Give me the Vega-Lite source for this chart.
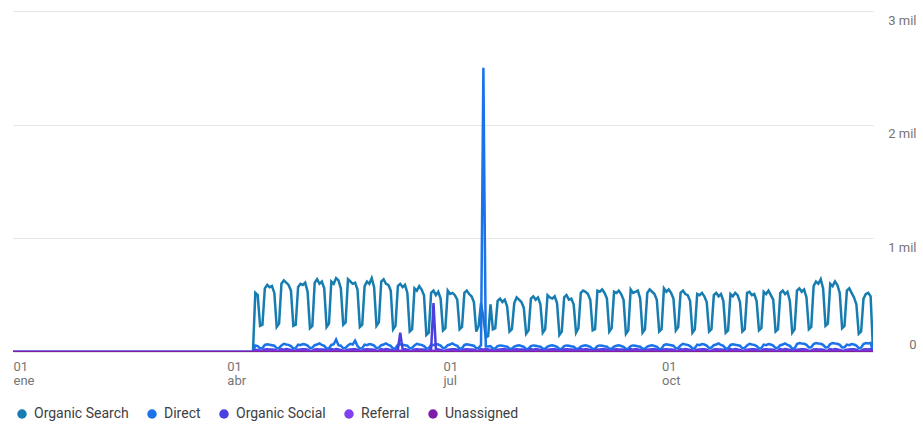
{
"$schema": "https://vega.github.io/schema/vega-lite/v6.json",
"width": 860, "height": 341,
"autosize": {"type": "none"},
"padding": {"left": 13, "top": 11, "right": 50, "bottom": 74},
"background": "white",
"config": {"view": {"stroke": null}, "font": "Roboto"},
"data": {"values": [
{"d":"2023-01-01","Organic Search":0,"Direct":0,"Organic Social":0,"Referral":0,"Unassigned":0},
{"d":"2023-04-12","Organic Search":0,"Direct":0,"Organic Social":0,"Referral":0,"Unassigned":0},
{"d":"2023-04-13","Organic Search":520,"Direct":58,"Organic Social":20,"Referral":9,"Unassigned":2},
{"d":"2023-04-14","Organic Search":500,"Direct":52,"Organic Social":18,"Referral":8,"Unassigned":1},
{"d":"2023-04-15","Organic Search":230,"Direct":32,"Organic Social":11,"Referral":4,"Unassigned":1},
{"d":"2023-04-16","Organic Search":240,"Direct":35,"Organic Social":12,"Referral":5,"Unassigned":0},
{"d":"2023-04-17","Organic Search":560,"Direct":62,"Organic Social":22,"Referral":9,"Unassigned":2},
{"d":"2023-04-18","Organic Search":590,"Direct":68,"Organic Social":24,"Referral":10,"Unassigned":2},
{"d":"2023-04-19","Organic Search":570,"Direct":64,"Organic Social":23,"Referral":9,"Unassigned":1},
{"d":"2023-04-20","Organic Search":580,"Direct":60,"Organic Social":21,"Referral":9,"Unassigned":2},
{"d":"2023-04-21","Organic Search":520,"Direct":55,"Organic Social":19,"Referral":8,"Unassigned":1},
{"d":"2023-04-22","Organic Search":220,"Direct":33,"Organic Social":11,"Referral":5,"Unassigned":1},
{"d":"2023-04-23","Organic Search":250,"Direct":36,"Organic Social":12,"Referral":5,"Unassigned":0},
{"d":"2023-04-24","Organic Search":600,"Direct":58,"Organic Social":25,"Referral":10,"Unassigned":1},
{"d":"2023-04-25","Organic Search":630,"Direct":72,"Organic Social":21,"Referral":9,"Unassigned":2},
{"d":"2023-04-26","Organic Search":610,"Direct":66,"Organic Social":26,"Referral":11,"Unassigned":2},
{"d":"2023-04-27","Organic Search":590,"Direct":63,"Organic Social":22,"Referral":8,"Unassigned":1},
{"d":"2023-04-28","Organic Search":540,"Direct":52,"Organic Social":18,"Referral":7,"Unassigned":1},
{"d":"2023-04-29","Organic Search":230,"Direct":31,"Organic Social":12,"Referral":4,"Unassigned":0},
{"d":"2023-04-30","Organic Search":240,"Direct":34,"Organic Social":13,"Referral":6,"Unassigned":1},
{"d":"2023-05-01","Organic Search":570,"Direct":65,"Organic Social":20,"Referral":9,"Unassigned":2},
{"d":"2023-05-02","Organic Search":600,"Direct":60,"Organic Social":23,"Referral":10,"Unassigned":2},
{"d":"2023-05-03","Organic Search":590,"Direct":70,"Organic Social":25,"Referral":9,"Unassigned":1},
{"d":"2023-05-04","Organic Search":610,"Direct":66,"Organic Social":24,"Referral":9,"Unassigned":2},
{"d":"2023-05-05","Organic Search":530,"Direct":57,"Organic Social":20,"Referral":8,"Unassigned":1},
{"d":"2023-05-06","Organic Search":210,"Direct":35,"Organic Social":10,"Referral":5,"Unassigned":1},
{"d":"2023-05-07","Organic Search":230,"Direct":38,"Organic Social":12,"Referral":5,"Unassigned":0},
{"d":"2023-05-08","Organic Search":610,"Direct":60,"Organic Social":22,"Referral":10,"Unassigned":1},
{"d":"2023-05-09","Organic Search":640,"Direct":66,"Organic Social":24,"Referral":9,"Unassigned":2},
{"d":"2023-05-10","Organic Search":600,"Direct":75,"Organic Social":23,"Referral":11,"Unassigned":2},
{"d":"2023-05-11","Organic Search":620,"Direct":62,"Organic Social":21,"Referral":8,"Unassigned":1},
{"d":"2023-05-12","Organic Search":560,"Direct":54,"Organic Social":19,"Referral":7,"Unassigned":1},
{"d":"2023-05-13","Organic Search":220,"Direct":30,"Organic Social":11,"Referral":4,"Unassigned":0},
{"d":"2023-05-14","Organic Search":250,"Direct":33,"Organic Social":12,"Referral":6,"Unassigned":1},
{"d":"2023-05-15","Organic Search":620,"Direct":62,"Organic Social":25,"Referral":9,"Unassigned":2},
{"d":"2023-05-16","Organic Search":600,"Direct":68,"Organic Social":21,"Referral":10,"Unassigned":2},
{"d":"2023-05-17","Organic Search":650,"Direct":110,"Organic Social":26,"Referral":9,"Unassigned":1},
{"d":"2023-05-18","Organic Search":630,"Direct":60,"Organic Social":22,"Referral":9,"Unassigned":2},
{"d":"2023-05-19","Organic Search":560,"Direct":55,"Organic Social":18,"Referral":8,"Unassigned":1},
{"d":"2023-05-20","Organic Search":240,"Direct":33,"Organic Social":12,"Referral":5,"Unassigned":1},
{"d":"2023-05-21","Organic Search":260,"Direct":36,"Organic Social":13,"Referral":5,"Unassigned":0},
{"d":"2023-05-22","Organic Search":640,"Direct":58,"Organic Social":20,"Referral":10,"Unassigned":1},
{"d":"2023-05-23","Organic Search":620,"Direct":72,"Organic Social":23,"Referral":9,"Unassigned":2},
{"d":"2023-05-24","Organic Search":600,"Direct":66,"Organic Social":25,"Referral":11,"Unassigned":2},
{"d":"2023-05-25","Organic Search":610,"Direct":100,"Organic Social":24,"Referral":8,"Unassigned":1},
{"d":"2023-05-26","Organic Search":550,"Direct":52,"Organic Social":20,"Referral":7,"Unassigned":1},
{"d":"2023-05-27","Organic Search":220,"Direct":31,"Organic Social":10,"Referral":4,"Unassigned":0},
{"d":"2023-05-28","Organic Search":240,"Direct":34,"Organic Social":12,"Referral":6,"Unassigned":1},
{"d":"2023-05-29","Organic Search":580,"Direct":65,"Organic Social":22,"Referral":9,"Unassigned":2},
{"d":"2023-05-30","Organic Search":620,"Direct":60,"Organic Social":24,"Referral":10,"Unassigned":2},
{"d":"2023-05-31","Organic Search":600,"Direct":70,"Organic Social":23,"Referral":9,"Unassigned":1},
{"d":"2023-06-01","Organic Search":650,"Direct":66,"Organic Social":21,"Referral":9,"Unassigned":2},
{"d":"2023-06-02","Organic Search":570,"Direct":57,"Organic Social":19,"Referral":8,"Unassigned":1},
{"d":"2023-06-03","Organic Search":230,"Direct":35,"Organic Social":11,"Referral":5,"Unassigned":1},
{"d":"2023-06-04","Organic Search":260,"Direct":38,"Organic Social":12,"Referral":5,"Unassigned":0},
{"d":"2023-06-05","Organic Search":620,"Direct":60,"Organic Social":25,"Referral":10,"Unassigned":1},
{"d":"2023-06-06","Organic Search":640,"Direct":66,"Organic Social":21,"Referral":9,"Unassigned":2},
{"d":"2023-06-07","Organic Search":600,"Direct":75,"Organic Social":26,"Referral":11,"Unassigned":2},
{"d":"2023-06-08","Organic Search":590,"Direct":62,"Organic Social":22,"Referral":8,"Unassigned":1},
{"d":"2023-06-09","Organic Search":540,"Direct":54,"Organic Social":18,"Referral":7,"Unassigned":1},
{"d":"2023-06-10","Organic Search":200,"Direct":30,"Organic Social":12,"Referral":4,"Unassigned":0},
{"d":"2023-06-11","Organic Search":230,"Direct":33,"Organic Social":13,"Referral":6,"Unassigned":1},
{"d":"2023-06-12","Organic Search":580,"Direct":62,"Organic Social":20,"Referral":9,"Unassigned":2},
{"d":"2023-06-13","Organic Search":600,"Direct":68,"Organic Social":170,"Referral":10,"Unassigned":2},
{"d":"2023-06-14","Organic Search":570,"Direct":64,"Organic Social":25,"Referral":9,"Unassigned":1},
{"d":"2023-06-15","Organic Search":590,"Direct":60,"Organic Social":24,"Referral":9,"Unassigned":2},
{"d":"2023-06-16","Organic Search":520,"Direct":55,"Organic Social":20,"Referral":8,"Unassigned":1},
{"d":"2023-06-17","Organic Search":180,"Direct":33,"Organic Social":10,"Referral":5,"Unassigned":1},
{"d":"2023-06-18","Organic Search":200,"Direct":36,"Organic Social":12,"Referral":5,"Unassigned":0},
{"d":"2023-06-19","Organic Search":560,"Direct":58,"Organic Social":22,"Referral":10,"Unassigned":1},
{"d":"2023-06-20","Organic Search":540,"Direct":72,"Organic Social":24,"Referral":9,"Unassigned":2},
{"d":"2023-06-21","Organic Search":580,"Direct":66,"Organic Social":23,"Referral":11,"Unassigned":2},
{"d":"2023-06-22","Organic Search":550,"Direct":63,"Organic Social":21,"Referral":8,"Unassigned":1},
{"d":"2023-06-23","Organic Search":500,"Direct":52,"Organic Social":19,"Referral":7,"Unassigned":1},
{"d":"2023-06-24","Organic Search":150,"Direct":31,"Organic Social":11,"Referral":4,"Unassigned":0},
{"d":"2023-06-25","Organic Search":170,"Direct":34,"Organic Social":12,"Referral":6,"Unassigned":1},
{"d":"2023-06-26","Organic Search":520,"Direct":65,"Organic Social":25,"Referral":9,"Unassigned":2},
{"d":"2023-06-27","Organic Search":540,"Direct":60,"Organic Social":430,"Referral":10,"Unassigned":2},
{"d":"2023-06-28","Organic Search":500,"Direct":70,"Organic Social":26,"Referral":9,"Unassigned":1},
{"d":"2023-06-29","Organic Search":530,"Direct":66,"Organic Social":22,"Referral":9,"Unassigned":2},
{"d":"2023-06-30","Organic Search":470,"Direct":57,"Organic Social":18,"Referral":8,"Unassigned":1},
{"d":"2023-07-01","Organic Search":190,"Direct":35,"Organic Social":12,"Referral":5,"Unassigned":1},
{"d":"2023-07-02","Organic Search":210,"Direct":38,"Organic Social":13,"Referral":5,"Unassigned":0},
{"d":"2023-07-03","Organic Search":540,"Direct":60,"Organic Social":20,"Referral":10,"Unassigned":1},
{"d":"2023-07-04","Organic Search":510,"Direct":66,"Organic Social":23,"Referral":9,"Unassigned":2},
{"d":"2023-07-05","Organic Search":520,"Direct":75,"Organic Social":25,"Referral":11,"Unassigned":2},
{"d":"2023-07-06","Organic Search":500,"Direct":62,"Organic Social":24,"Referral":8,"Unassigned":1},
{"d":"2023-07-07","Organic Search":460,"Direct":54,"Organic Social":20,"Referral":7,"Unassigned":1},
{"d":"2023-07-08","Organic Search":200,"Direct":30,"Organic Social":10,"Referral":4,"Unassigned":0},
{"d":"2023-07-09","Organic Search":220,"Direct":33,"Organic Social":12,"Referral":6,"Unassigned":1},
{"d":"2023-07-10","Organic Search":520,"Direct":62,"Organic Social":22,"Referral":9,"Unassigned":2},
{"d":"2023-07-11","Organic Search":540,"Direct":68,"Organic Social":24,"Referral":10,"Unassigned":2},
{"d":"2023-07-12","Organic Search":510,"Direct":64,"Organic Social":23,"Referral":9,"Unassigned":1},
{"d":"2023-07-13","Organic Search":490,"Direct":60,"Organic Social":21,"Referral":9,"Unassigned":2},
{"d":"2023-07-14","Organic Search":440,"Direct":55,"Organic Social":19,"Referral":8,"Unassigned":1},
{"d":"2023-07-15","Organic Search":180,"Direct":33,"Organic Social":11,"Referral":5,"Unassigned":1},
{"d":"2023-07-16","Organic Search":230,"Direct":36,"Organic Social":12,"Referral":5,"Unassigned":0},
{"d":"2023-07-17","Organic Search":430,"Direct":60,"Organic Social":25,"Referral":10,"Unassigned":1},
{"d":"2023-07-18","Organic Search":300,"Direct":2500,"Organic Social":21,"Referral":9,"Unassigned":2},
{"d":"2023-07-19","Organic Search":130,"Direct":50,"Organic Social":26,"Referral":11,"Unassigned":2},
{"d":"2023-07-20","Organic Search":140,"Direct":48,"Organic Social":22,"Referral":8,"Unassigned":1},
{"d":"2023-07-21","Organic Search":420,"Direct":52,"Organic Social":18,"Referral":7,"Unassigned":1},
{"d":"2023-07-22","Organic Search":200,"Direct":30,"Organic Social":12,"Referral":4,"Unassigned":0},
{"d":"2023-07-23","Organic Search":210,"Direct":32,"Organic Social":13,"Referral":6,"Unassigned":1},
{"d":"2023-07-24","Organic Search":450,"Direct":52,"Organic Social":20,"Referral":9,"Unassigned":2},
{"d":"2023-07-25","Organic Search":470,"Direct":58,"Organic Social":23,"Referral":10,"Unassigned":2},
{"d":"2023-07-26","Organic Search":440,"Direct":55,"Organic Social":25,"Referral":9,"Unassigned":1},
{"d":"2023-07-27","Organic Search":460,"Direct":50,"Organic Social":24,"Referral":9,"Unassigned":2},
{"d":"2023-07-28","Organic Search":400,"Direct":46,"Organic Social":20,"Referral":8,"Unassigned":1},
{"d":"2023-07-29","Organic Search":180,"Direct":28,"Organic Social":10,"Referral":5,"Unassigned":1},
{"d":"2023-07-30","Organic Search":200,"Direct":30,"Organic Social":12,"Referral":5,"Unassigned":0},
{"d":"2023-07-31","Organic Search":430,"Direct":48,"Organic Social":22,"Referral":10,"Unassigned":1},
{"d":"2023-08-01","Organic Search":480,"Direct":55,"Organic Social":24,"Referral":9,"Unassigned":2},
{"d":"2023-08-02","Organic Search":460,"Direct":60,"Organic Social":23,"Referral":11,"Unassigned":2},
{"d":"2023-08-03","Organic Search":440,"Direct":53,"Organic Social":21,"Referral":8,"Unassigned":1},
{"d":"2023-08-04","Organic Search":390,"Direct":45,"Organic Social":19,"Referral":7,"Unassigned":1},
{"d":"2023-08-05","Organic Search":160,"Direct":27,"Organic Social":11,"Referral":4,"Unassigned":0},
{"d":"2023-08-06","Organic Search":190,"Direct":29,"Organic Social":12,"Referral":6,"Unassigned":1},
{"d":"2023-08-07","Organic Search":470,"Direct":52,"Organic Social":25,"Referral":9,"Unassigned":2},
{"d":"2023-08-08","Organic Search":490,"Direct":58,"Organic Social":21,"Referral":10,"Unassigned":2},
{"d":"2023-08-09","Organic Search":460,"Direct":55,"Organic Social":26,"Referral":9,"Unassigned":1},
{"d":"2023-08-10","Organic Search":480,"Direct":50,"Organic Social":22,"Referral":9,"Unassigned":2},
{"d":"2023-08-11","Organic Search":420,"Direct":46,"Organic Social":18,"Referral":8,"Unassigned":1},
{"d":"2023-08-12","Organic Search":170,"Direct":28,"Organic Social":12,"Referral":5,"Unassigned":1},
{"d":"2023-08-13","Organic Search":200,"Direct":30,"Organic Social":13,"Referral":5,"Unassigned":0},
{"d":"2023-08-14","Organic Search":500,"Direct":48,"Organic Social":20,"Referral":10,"Unassigned":1},
{"d":"2023-08-15","Organic Search":480,"Direct":55,"Organic Social":23,"Referral":9,"Unassigned":2},
{"d":"2023-08-16","Organic Search":470,"Direct":60,"Organic Social":25,"Referral":11,"Unassigned":2},
{"d":"2023-08-17","Organic Search":490,"Direct":53,"Organic Social":24,"Referral":8,"Unassigned":1},
{"d":"2023-08-18","Organic Search":430,"Direct":45,"Organic Social":20,"Referral":7,"Unassigned":1},
{"d":"2023-08-19","Organic Search":150,"Direct":27,"Organic Social":10,"Referral":4,"Unassigned":0},
{"d":"2023-08-20","Organic Search":180,"Direct":29,"Organic Social":12,"Referral":6,"Unassigned":1},
{"d":"2023-08-21","Organic Search":480,"Direct":52,"Organic Social":22,"Referral":9,"Unassigned":2},
{"d":"2023-08-22","Organic Search":500,"Direct":58,"Organic Social":24,"Referral":10,"Unassigned":2},
{"d":"2023-08-23","Organic Search":460,"Direct":55,"Organic Social":23,"Referral":9,"Unassigned":1},
{"d":"2023-08-24","Organic Search":470,"Direct":50,"Organic Social":21,"Referral":9,"Unassigned":2},
{"d":"2023-08-25","Organic Search":420,"Direct":46,"Organic Social":19,"Referral":8,"Unassigned":1},
{"d":"2023-08-26","Organic Search":170,"Direct":28,"Organic Social":11,"Referral":5,"Unassigned":1},
{"d":"2023-08-27","Organic Search":210,"Direct":30,"Organic Social":12,"Referral":5,"Unassigned":0},
{"d":"2023-08-28","Organic Search":520,"Direct":48,"Organic Social":25,"Referral":10,"Unassigned":1},
{"d":"2023-08-29","Organic Search":540,"Direct":55,"Organic Social":21,"Referral":9,"Unassigned":2},
{"d":"2023-08-30","Organic Search":530,"Direct":60,"Organic Social":26,"Referral":11,"Unassigned":2},
{"d":"2023-08-31","Organic Search":510,"Direct":53,"Organic Social":22,"Referral":8,"Unassigned":1},
{"d":"2023-09-01","Organic Search":460,"Direct":45,"Organic Social":18,"Referral":7,"Unassigned":1},
{"d":"2023-09-02","Organic Search":190,"Direct":27,"Organic Social":12,"Referral":4,"Unassigned":0},
{"d":"2023-09-03","Organic Search":200,"Direct":29,"Organic Social":13,"Referral":6,"Unassigned":1},
{"d":"2023-09-04","Organic Search":540,"Direct":52,"Organic Social":20,"Referral":9,"Unassigned":2},
{"d":"2023-09-05","Organic Search":530,"Direct":58,"Organic Social":23,"Referral":10,"Unassigned":2},
{"d":"2023-09-06","Organic Search":550,"Direct":55,"Organic Social":25,"Referral":9,"Unassigned":1},
{"d":"2023-09-07","Organic Search":520,"Direct":50,"Organic Social":24,"Referral":9,"Unassigned":2},
{"d":"2023-09-08","Organic Search":470,"Direct":46,"Organic Social":20,"Referral":8,"Unassigned":1},
{"d":"2023-09-09","Organic Search":180,"Direct":28,"Organic Social":10,"Referral":5,"Unassigned":1},
{"d":"2023-09-10","Organic Search":210,"Direct":30,"Organic Social":12,"Referral":5,"Unassigned":0},
{"d":"2023-09-11","Organic Search":530,"Direct":48,"Organic Social":22,"Referral":10,"Unassigned":1},
{"d":"2023-09-12","Organic Search":520,"Direct":55,"Organic Social":24,"Referral":9,"Unassigned":2},
{"d":"2023-09-13","Organic Search":540,"Direct":60,"Organic Social":23,"Referral":11,"Unassigned":2},
{"d":"2023-09-14","Organic Search":510,"Direct":53,"Organic Social":21,"Referral":8,"Unassigned":1},
{"d":"2023-09-15","Organic Search":460,"Direct":45,"Organic Social":19,"Referral":7,"Unassigned":1},
{"d":"2023-09-16","Organic Search":160,"Direct":27,"Organic Social":11,"Referral":4,"Unassigned":0},
{"d":"2023-09-17","Organic Search":190,"Direct":29,"Organic Social":12,"Referral":6,"Unassigned":1},
{"d":"2023-09-18","Organic Search":550,"Direct":52,"Organic Social":25,"Referral":9,"Unassigned":2},
{"d":"2023-09-19","Organic Search":520,"Direct":58,"Organic Social":21,"Referral":10,"Unassigned":2},
{"d":"2023-09-20","Organic Search":530,"Direct":55,"Organic Social":26,"Referral":9,"Unassigned":1},
{"d":"2023-09-21","Organic Search":540,"Direct":50,"Organic Social":22,"Referral":9,"Unassigned":2},
{"d":"2023-09-22","Organic Search":470,"Direct":46,"Organic Social":18,"Referral":8,"Unassigned":1},
{"d":"2023-09-23","Organic Search":170,"Direct":28,"Organic Social":12,"Referral":5,"Unassigned":1},
{"d":"2023-09-24","Organic Search":200,"Direct":30,"Organic Social":13,"Referral":5,"Unassigned":0},
{"d":"2023-09-25","Organic Search":520,"Direct":48,"Organic Social":20,"Referral":10,"Unassigned":1},
{"d":"2023-09-26","Organic Search":550,"Direct":55,"Organic Social":23,"Referral":9,"Unassigned":2},
{"d":"2023-09-27","Organic Search":530,"Direct":60,"Organic Social":25,"Referral":11,"Unassigned":2},
{"d":"2023-09-28","Organic Search":510,"Direct":53,"Organic Social":24,"Referral":8,"Unassigned":1},
{"d":"2023-09-29","Organic Search":460,"Direct":45,"Organic Social":20,"Referral":7,"Unassigned":1},
{"d":"2023-09-30","Organic Search":180,"Direct":27,"Organic Social":10,"Referral":4,"Unassigned":0},
{"d":"2023-10-01","Organic Search":200,"Direct":29,"Organic Social":12,"Referral":6,"Unassigned":1},
{"d":"2023-10-02","Organic Search":560,"Direct":62,"Organic Social":22,"Referral":9,"Unassigned":2},
{"d":"2023-10-03","Organic Search":530,"Direct":68,"Organic Social":24,"Referral":10,"Unassigned":2},
{"d":"2023-10-04","Organic Search":550,"Direct":64,"Organic Social":23,"Referral":9,"Unassigned":1},
{"d":"2023-10-05","Organic Search":520,"Direct":60,"Organic Social":21,"Referral":9,"Unassigned":2},
{"d":"2023-10-06","Organic Search":470,"Direct":55,"Organic Social":19,"Referral":8,"Unassigned":1},
{"d":"2023-10-07","Organic Search":190,"Direct":33,"Organic Social":11,"Referral":5,"Unassigned":1},
{"d":"2023-10-08","Organic Search":220,"Direct":36,"Organic Social":12,"Referral":5,"Unassigned":0},
{"d":"2023-10-09","Organic Search":520,"Direct":58,"Organic Social":25,"Referral":10,"Unassigned":1},
{"d":"2023-10-10","Organic Search":540,"Direct":72,"Organic Social":21,"Referral":9,"Unassigned":2},
{"d":"2023-10-11","Organic Search":510,"Direct":66,"Organic Social":26,"Referral":11,"Unassigned":2},
{"d":"2023-10-12","Organic Search":500,"Direct":63,"Organic Social":22,"Referral":8,"Unassigned":1},
{"d":"2023-10-13","Organic Search":450,"Direct":52,"Organic Social":18,"Referral":7,"Unassigned":1},
{"d":"2023-10-14","Organic Search":170,"Direct":31,"Organic Social":12,"Referral":4,"Unassigned":0},
{"d":"2023-10-15","Organic Search":200,"Direct":34,"Organic Social":13,"Referral":6,"Unassigned":1},
{"d":"2023-10-16","Organic Search":510,"Direct":65,"Organic Social":20,"Referral":9,"Unassigned":2},
{"d":"2023-10-17","Organic Search":500,"Direct":60,"Organic Social":23,"Referral":10,"Unassigned":2},
{"d":"2023-10-18","Organic Search":520,"Direct":70,"Organic Social":25,"Referral":9,"Unassigned":1},
{"d":"2023-10-19","Organic Search":490,"Direct":66,"Organic Social":24,"Referral":9,"Unassigned":2},
{"d":"2023-10-20","Organic Search":440,"Direct":57,"Organic Social":20,"Referral":8,"Unassigned":1},
{"d":"2023-10-21","Organic Search":180,"Direct":35,"Organic Social":10,"Referral":5,"Unassigned":1},
{"d":"2023-10-22","Organic Search":200,"Direct":38,"Organic Social":12,"Referral":5,"Unassigned":0},
{"d":"2023-10-23","Organic Search":500,"Direct":60,"Organic Social":22,"Referral":10,"Unassigned":1},
{"d":"2023-10-24","Organic Search":520,"Direct":66,"Organic Social":24,"Referral":9,"Unassigned":2},
{"d":"2023-10-25","Organic Search":490,"Direct":75,"Organic Social":23,"Referral":11,"Unassigned":2},
{"d":"2023-10-26","Organic Search":510,"Direct":62,"Organic Social":21,"Referral":8,"Unassigned":1},
{"d":"2023-10-27","Organic Search":450,"Direct":54,"Organic Social":19,"Referral":7,"Unassigned":1},
{"d":"2023-10-28","Organic Search":170,"Direct":30,"Organic Social":11,"Referral":4,"Unassigned":0},
{"d":"2023-10-29","Organic Search":190,"Direct":33,"Organic Social":12,"Referral":6,"Unassigned":1},
{"d":"2023-10-30","Organic Search":510,"Direct":62,"Organic Social":25,"Referral":9,"Unassigned":2},
{"d":"2023-10-31","Organic Search":490,"Direct":68,"Organic Social":21,"Referral":10,"Unassigned":2},
{"d":"2023-11-01","Organic Search":520,"Direct":64,"Organic Social":26,"Referral":9,"Unassigned":1},
{"d":"2023-11-02","Organic Search":500,"Direct":60,"Organic Social":22,"Referral":9,"Unassigned":2},
{"d":"2023-11-03","Organic Search":440,"Direct":55,"Organic Social":18,"Referral":8,"Unassigned":1},
{"d":"2023-11-04","Organic Search":180,"Direct":33,"Organic Social":12,"Referral":5,"Unassigned":1},
{"d":"2023-11-05","Organic Search":200,"Direct":36,"Organic Social":13,"Referral":5,"Unassigned":0},
{"d":"2023-11-06","Organic Search":520,"Direct":58,"Organic Social":20,"Referral":10,"Unassigned":1},
{"d":"2023-11-07","Organic Search":530,"Direct":72,"Organic Social":23,"Referral":9,"Unassigned":2},
{"d":"2023-11-08","Organic Search":500,"Direct":66,"Organic Social":25,"Referral":11,"Unassigned":2},
{"d":"2023-11-09","Organic Search":510,"Direct":63,"Organic Social":24,"Referral":8,"Unassigned":1},
{"d":"2023-11-10","Organic Search":450,"Direct":52,"Organic Social":20,"Referral":7,"Unassigned":1},
{"d":"2023-11-11","Organic Search":190,"Direct":31,"Organic Social":10,"Referral":4,"Unassigned":0},
{"d":"2023-11-12","Organic Search":210,"Direct":34,"Organic Social":12,"Referral":6,"Unassigned":1},
{"d":"2023-11-13","Organic Search":530,"Direct":65,"Organic Social":22,"Referral":9,"Unassigned":2},
{"d":"2023-11-14","Organic Search":510,"Direct":60,"Organic Social":24,"Referral":10,"Unassigned":2},
{"d":"2023-11-15","Organic Search":540,"Direct":70,"Organic Social":23,"Referral":9,"Unassigned":1},
{"d":"2023-11-16","Organic Search":500,"Direct":66,"Organic Social":21,"Referral":9,"Unassigned":2},
{"d":"2023-11-17","Organic Search":460,"Direct":57,"Organic Social":19,"Referral":8,"Unassigned":1},
{"d":"2023-11-18","Organic Search":180,"Direct":35,"Organic Social":11,"Referral":5,"Unassigned":1},
{"d":"2023-11-19","Organic Search":200,"Direct":38,"Organic Social":12,"Referral":5,"Unassigned":0},
{"d":"2023-11-20","Organic Search":520,"Direct":60,"Organic Social":25,"Referral":10,"Unassigned":1},
{"d":"2023-11-21","Organic Search":540,"Direct":66,"Organic Social":21,"Referral":9,"Unassigned":2},
{"d":"2023-11-22","Organic Search":510,"Direct":75,"Organic Social":26,"Referral":11,"Unassigned":2},
{"d":"2023-11-23","Organic Search":530,"Direct":62,"Organic Social":22,"Referral":8,"Unassigned":1},
{"d":"2023-11-24","Organic Search":450,"Direct":54,"Organic Social":18,"Referral":7,"Unassigned":1},
{"d":"2023-11-25","Organic Search":170,"Direct":30,"Organic Social":12,"Referral":4,"Unassigned":0},
{"d":"2023-11-26","Organic Search":200,"Direct":33,"Organic Social":13,"Referral":6,"Unassigned":1},
{"d":"2023-11-27","Organic Search":540,"Direct":70,"Organic Social":20,"Referral":9,"Unassigned":2},
{"d":"2023-11-28","Organic Search":560,"Direct":78,"Organic Social":23,"Referral":10,"Unassigned":2},
{"d":"2023-11-29","Organic Search":530,"Direct":74,"Organic Social":25,"Referral":9,"Unassigned":1},
{"d":"2023-11-30","Organic Search":550,"Direct":72,"Organic Social":24,"Referral":9,"Unassigned":2},
{"d":"2023-12-01","Organic Search":480,"Direct":63,"Organic Social":20,"Referral":8,"Unassigned":1},
{"d":"2023-12-02","Organic Search":200,"Direct":40,"Organic Social":10,"Referral":5,"Unassigned":1},
{"d":"2023-12-03","Organic Search":220,"Direct":42,"Organic Social":12,"Referral":5,"Unassigned":0},
{"d":"2023-12-04","Organic Search":580,"Direct":70,"Organic Social":22,"Referral":10,"Unassigned":1},
{"d":"2023-12-05","Organic Search":620,"Direct":78,"Organic Social":24,"Referral":9,"Unassigned":2},
{"d":"2023-12-06","Organic Search":600,"Direct":74,"Organic Social":23,"Referral":11,"Unassigned":2},
{"d":"2023-12-07","Organic Search":640,"Direct":72,"Organic Social":21,"Referral":8,"Unassigned":1},
{"d":"2023-12-08","Organic Search":560,"Direct":63,"Organic Social":19,"Referral":7,"Unassigned":1},
{"d":"2023-12-09","Organic Search":230,"Direct":40,"Organic Social":11,"Referral":4,"Unassigned":0},
{"d":"2023-12-10","Organic Search":250,"Direct":42,"Organic Social":12,"Referral":6,"Unassigned":1},
{"d":"2023-12-11","Organic Search":600,"Direct":70,"Organic Social":25,"Referral":9,"Unassigned":2},
{"d":"2023-12-12","Organic Search":580,"Direct":78,"Organic Social":21,"Referral":10,"Unassigned":2},
{"d":"2023-12-13","Organic Search":620,"Direct":74,"Organic Social":26,"Referral":9,"Unassigned":1},
{"d":"2023-12-14","Organic Search":590,"Direct":72,"Organic Social":22,"Referral":9,"Unassigned":2},
{"d":"2023-12-15","Organic Search":520,"Direct":63,"Organic Social":18,"Referral":8,"Unassigned":1},
{"d":"2023-12-16","Organic Search":210,"Direct":40,"Organic Social":12,"Referral":5,"Unassigned":1},
{"d":"2023-12-17","Organic Search":230,"Direct":42,"Organic Social":13,"Referral":5,"Unassigned":0},
{"d":"2023-12-18","Organic Search":540,"Direct":65,"Organic Social":20,"Referral":10,"Unassigned":1},
{"d":"2023-12-19","Organic Search":560,"Direct":60,"Organic Social":23,"Referral":9,"Unassigned":2},
{"d":"2023-12-20","Organic Search":520,"Direct":70,"Organic Social":25,"Referral":11,"Unassigned":2},
{"d":"2023-12-21","Organic Search":480,"Direct":66,"Organic Social":24,"Referral":8,"Unassigned":1},
{"d":"2023-12-22","Organic Search":420,"Direct":57,"Organic Social":20,"Referral":7,"Unassigned":1},
{"d":"2023-12-23","Organic Search":160,"Direct":35,"Organic Social":10,"Referral":4,"Unassigned":0},
{"d":"2023-12-24","Organic Search":180,"Direct":38,"Organic Social":12,"Referral":6,"Unassigned":1},
{"d":"2023-12-25","Organic Search":470,"Direct":70,"Organic Social":22,"Referral":9,"Unassigned":2},
{"d":"2023-12-26","Organic Search":510,"Direct":78,"Organic Social":24,"Referral":10,"Unassigned":2},
{"d":"2023-12-27","Organic Search":520,"Direct":74,"Organic Social":23,"Referral":9,"Unassigned":1},
{"d":"2023-12-28","Organic Search":490,"Direct":80,"Organic Social":25,"Referral":9,"Unassigned":2},
{"d":"2023-12-29","Organic Search":10,"Direct":5,"Organic Social":1,"Referral":0,"Unassigned":0}
]},
"transform": [{"fold": ["Organic Search", "Direct", "Organic Social", "Referral", "Unassigned"], "as": ["channel", "users"]}],
"mark": {"type": "line", "strokeWidth": 2.5, "clip": true},
"encoding": {
  "x": {"field": "d", "type": "temporal",
    "scale": {"type": "utc", "domain": [{"year": 2023, "month": 1, "date": 1, "utc": true}, {"year": 2023, "month": 12, "date": 29, "utc": true}]},
    "axis": {"values": [{"year": 2023, "month": 1, "date": 1, "utc": true}, {"year": 2023, "month": 4, "date": 1, "utc": true}, {"year": 2023, "month": 7, "date": 1, "utc": true}, {"year": 2023, "month": 10, "date": 1, "utc": true}],
      "labelExpr": "[utcFormat(datum.value, '%d'), ['ene','feb','mar','abr','may','jun','jul','ago','sep','oct','nov','dic'][utcmonth(datum.value)]]",
      "labelAlign": "left", "labelBaseline": "top", "labelPadding": 8, "ticks": false, "tickSize": 0, "domain": false, "grid": false, "title": null,
      "labelFont": "Roboto", "labelFontSize": 13, "labelColor": "#757575", "labelLineHeight": 14, "labelFlush": false, "labelOverlap": false}},
  "y": {"field": "users", "type": "quantitative",
    "scale": {"domain": [0, 3000], "nice": false},
    "axis": {"orient": "right", "values": [0, 1000, 2000, 3000],
      "labelExpr": "datum.value == 0 ? '0' : (datum.value / 1000) + ' mil'",
      "domain": false, "ticks": false, "tickSize": 0, "gridColor": "#e6e6e6", "gridWidth": 1,
      "labelAlign": "right", "labelPadding": 43,
      "labelBaseline": {"condition": {"test": "datum.value == 0", "value": "bottom"}, "value": "top"},
      "labelOffset": {"condition": {"test": "datum.value == 0", "value": -1}, "value": 3},
      "title": null, "labelFont": "Roboto", "labelFontSize": 13, "labelColor": "#757575"}},
  "color": {"field": "channel", "type": "nominal",
    "scale": {"domain": ["Organic Search", "Direct", "Organic Social", "Referral", "Unassigned"], "range": ["#177cb0", "#1a73e8", "#4a40e0", "#8040ef", "#7e1ea8"]},
    "legend": {"orient": "none", "legendX": 2, "legendY": 396, "direction": "horizontal", "title": null,
      "symbolType": "circle", "symbolSize": 90, "symbolStrokeWidth": 0,
      "labelFont": "Roboto", "labelFontSize": 14, "labelColor": "#3c4043", "labelOffset": 5, "columnPadding": 16,
      "encode": {"symbols": {"update": {"fill": {"scale": "color", "field": "value"}, "opacity": {"value": 1}}}}}}
}
}
